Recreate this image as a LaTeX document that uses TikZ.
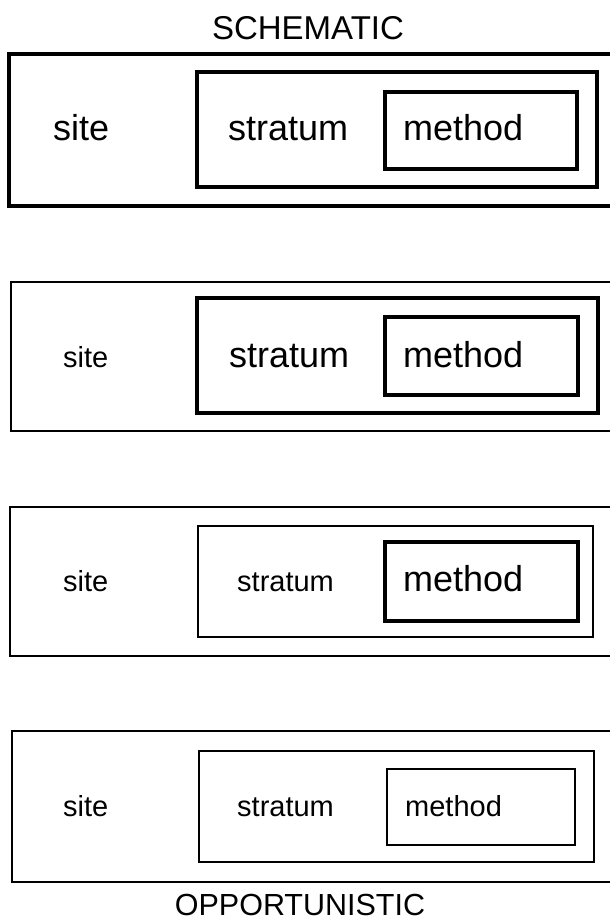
\documentclass[tikz,border=0pt]{standalone}
\usepackage{fontspec}
\setmainfont{Liberation Sans}
\usepackage{tikz}
\usetikzlibrary{positioning}

\tikzset{
  heavy/.style={draw,line width=4pt,inner sep=0pt},
  light/.style={draw,line width=1.5pt,inner sep=0pt},
  bigtext/.style={anchor=base west,inner sep=0pt,font=\fontsize{36}{40}\selectfont},
  smalltext/.style={anchor=base west,inner sep=0pt,font=\fontsize{29}{33}\selectfont},
  title/.style={anchor=base,inner sep=0pt,font=\fontsize{33}{38}\selectfont}
}

\begin{document}
\begin{tikzpicture}[x=1pt,y=-1pt]
  \clip (0,0) rectangle (610,922);

  \node at (308,39) [title] (schematic) {SCHEMATIC};

  \node at (311.5,130) [heavy,minimum width=605pt,minimum height=152pt] (siteA) {};
  \node at (397,129.5) [heavy,minimum width=400pt,minimum height=115pt] (stratumA) {};
  \node at (481,130.5) [heavy,minimum width=192pt,minimum height=77pt] (methodA) {};
  \node at (53,140) [bigtext] (siteAtext) {site};
  \node at (228,140) [bigtext] (stratumAtext) {stratum};
  \node at (403,140) [bigtext] (methodAtext) {method};

  \node at (312.5,356.5) [light,minimum width=603pt,minimum height=149pt] (siteB) {};
  \node at (397.5,355.5) [heavy,minimum width=401pt,minimum height=115pt] (stratumB) {};
  \node at (481.5,356) [heavy,minimum width=193pt,minimum height=78pt] (methodB) {};
  \node at (63,367) [smalltext] (siteBtext) {site};
  \node at (229,367) [bigtext] (stratumBtext) {stratum};
  \node at (403,367) [bigtext] (methodBtext) {method};

  \node at (312,581.5) [light,minimum width=604pt,minimum height=149pt] (siteC) {};
  \node at (395.5,581.5) [light,minimum width=395pt,minimum height=111pt] (stratumC) {};
  \node at (481.5,581.5) [heavy,minimum width=193pt,minimum height=79pt] (methodC) {};
  \node at (63,591) [smalltext] (siteCtext) {site};
  \node at (237,591) [smalltext] (stratumCtext) {stratum};
  \node at (403,591) [bigtext] (methodCtext) {method};

  \node at (313,806.5) [light,minimum width=602pt,minimum height=151pt] (siteD) {};
  \node at (396.5,806.5) [light,minimum width=395pt,minimum height=111pt] (stratumD) {};
  \node at (481,807) [light,minimum width=188pt,minimum height=76pt] (methodD) {};
  \node at (63,816) [smalltext] (siteDtext) {site};
  \node at (237,816) [smalltext] (stratumDtext) {stratum};
  \node at (405,816) [smalltext] (methodDtext) {method};

  \node at (300,915) [title,font=\fontsize{30.5}{36}\selectfont] (opportunistic) {OPPORTUNISTIC};
\end{tikzpicture}
\end{document}
